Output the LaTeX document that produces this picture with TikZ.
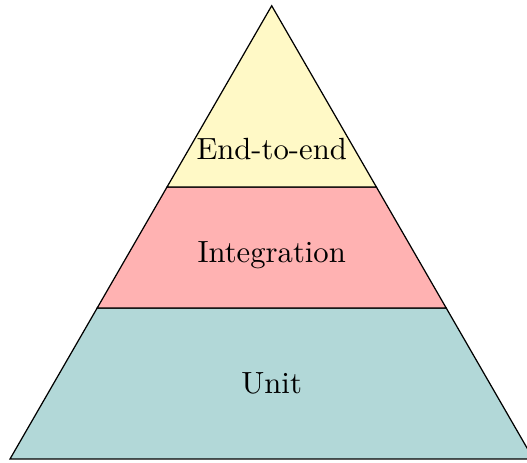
\documentclass[tikz,border=0pt]{standalone}
\usepackage{tikz}
\definecolor{unitfill}{RGB}{178, 216, 216}
\definecolor{integfill}{RGB}{255, 178, 178}
\definecolor{etefill}{RGB}{255, 249, 198}

\begin{document}
\begin{tikzpicture}[
    layer/.style={draw, thin},
    tier/.style={font=\normalsize, inner sep=0pt}
  ]
    \useasboundingbox (-0.115,-0.035) rectangle (5.927,5.262);

    % pyramid layers, bottom to top
    \filldraw[layer, fill=unitfill] (0,0) -- (6,0) -- (5,1.732) -- (1,1.732) -- cycle;
    \filldraw[layer, fill=integfill] (1,1.732) -- (5,1.732) -- (4.2,3.118) -- (1.8,3.118) -- cycle;
    \filldraw[layer, fill=etefill] (1.8,3.118) -- (4.2,3.118) -- (3,5.196) -- cycle;

    \node[tier] (unit) at (3, 0.87) {Unit};
    \node[tier] (integ) at (3, 2.34) {Integration};
    \node[tier] (ete) at (3, 3.55) {End-to-end};
  \end{tikzpicture}
\end{document}
